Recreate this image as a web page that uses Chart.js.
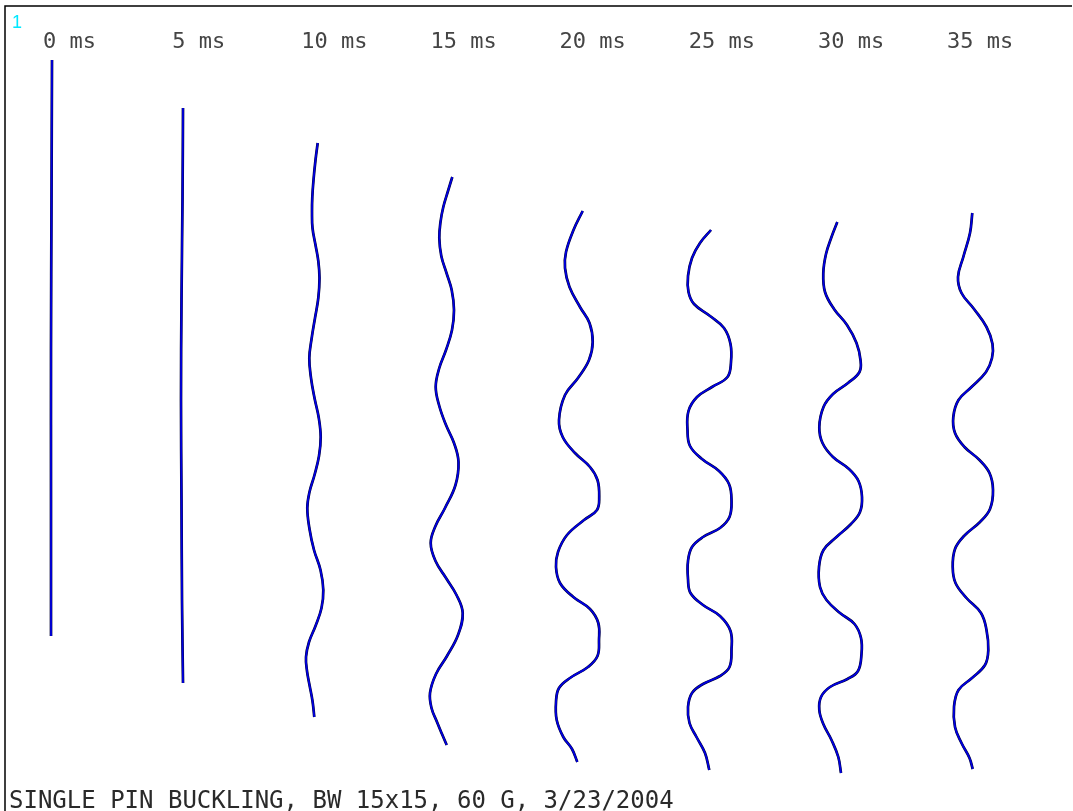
<!DOCTYPE html>
<html>
<head>
<meta charset="utf-8">
<title>Single pin buckling</title>
<script src="https://cdn.jsdelivr.net/npm/chart.js@4/dist/chart.umd.min.js"></script>
<style>
  html, body { margin: 0; padding: 0; background: #ffffff; }
  #wrap { position: relative; width: 1073px; height: 811px; }
</style>
</head>
<body>
<div id="wrap"><canvas id="c"></canvas></div>
<script>
// Frame times (ms) and the labels printed above each pin shape
const times = [0, 5, 10, 15, 20, 25, 30, 35];
const timeLabels = ['0 ms', '5 ms', '10 ms', '15 ms', '20 ms', '25 ms', '30 ms', '35 ms'];
const chartTitle = 'SINGLE PIN BUCKLING, BW 15x15, 60 G, 3/23/2004';
const frameNumber = '1';

// Deformed pin centre line at each time: [lateral position, vertical position]
const pin0 = [[52, 60], [51.5, 200], [51, 350], [51, 500], [51, 636]];
const pin5 = [[183, 108], [182.5, 200], [181.5, 300], [181, 400], [181.5, 500], [182, 600], [183, 683]];
const pin10 = [
  [317.7, 143], [315.5, 160], [313.5, 180], [312.3, 197], [312, 212], [312.5, 228],
  [315.5, 245], [318.3, 261], [319.5, 278], [318.3, 298], [315, 318], [311.7, 338],
  [309.3, 358], [311, 378], [314.5, 398], [318.8, 418], [320.7, 437], [319, 456],
  [314.5, 475], [309.5, 492], [307.3, 508], [309.5, 529], [314, 550], [320.5, 570],
  [323.3, 590], [321.5, 608], [315.5, 626], [309, 642], [306, 657], [307, 671],
  [309.5, 685], [312.5, 701], [314.3, 717]
];
const pin15 = [
  [452.3, 177], [448, 191], [443.3, 207], [440.5, 222], [439.3, 238], [441.3, 256],
  [446.5, 273], [451.7, 290], [454, 310], [452, 330], [446, 350], [439.3, 368],
  [435.7, 387], [439.3, 406], [446, 425], [454, 443], [458.5, 462], [455.5, 485],
  [445, 508], [435.5, 526], [430.7, 543], [435.5, 561], [446, 578], [456.5, 595],
  [462.7, 613], [458, 635], [447, 656], [436, 674], [430, 693], [431.5, 708],
  [437, 722], [442, 734], [446.7, 745]
];
const pin20 = [
  [582.7, 211], [573.5, 230], [566, 252], [565, 268], [569.5, 287], [580, 307],
  [589.5, 323], [592.7, 342], [589, 360], [578, 378], [565, 395], [559, 420],
  [562.7, 437], [575, 453], [590, 467], [597.5, 480], [599.2, 497], [597, 510],
  [584, 520], [567, 535], [558, 552], [556, 567], [560, 583], [573.3, 597],
  [590, 609], [598.3, 623], [599, 640], [597.5, 656], [588, 667], [570, 678],
  [559, 688], [556, 702], [556.7, 720], [563.3, 737], [572, 749], [577.3, 762]
];
const pin25 = [
  [711, 230], [700, 243], [692, 258], [688, 276], [688.5, 292], [694, 304],
  [710, 316], [724, 328], [730.5, 344], [731, 362], [727.5, 377], [712, 387],
  [697, 397], [688.5, 411], [687.5, 430], [690, 446], [702, 459], [719, 471],
  [729, 484], [731.5, 500], [729.5, 517], [720, 528], [703, 537], [692, 547],
  [688, 561], [688, 579], [690.5, 593], [703, 605], [720, 616], [730.5, 631],
  [731.5, 650], [729.5, 667], [720, 676], [703, 684], [692, 693], [688, 707],
  [689.5, 723], [696.5, 737], [705, 753], [709.3, 770]
];
const pin30 = [
  [837.3, 222], [831.5, 237], [826, 254], [823.3, 273], [825, 292], [834, 309],
  [847, 325], [856.5, 343], [860.5, 360], [859.5, 372], [848, 383], [833, 394],
  [823.5, 407], [819.3, 427], [822.5, 443], [833, 457], [849, 469], [858.5, 481],
  [862, 497], [860, 512], [851, 524], [836.5, 537], [823.5, 550], [819, 567],
  [820, 587], [826.5, 600], [840, 613], [854.5, 624], [861, 638], [861.5, 654],
  [858, 671], [847.5, 679], [830, 687], [821, 697], [819.3, 710], [823.3, 724],
  [831.5, 740], [838.3, 757], [841, 773]
];
const pin35 = [
  [972.3, 213], [970, 233], [963.3, 257], [958, 277], [961.5, 293], [974, 309],
  [986.5, 327], [992.5, 344], [992, 358], [986, 372], [971.5, 387], [958.5, 400],
  [953.3, 417], [955, 433], [964.5, 447], [979.5, 460], [989.5, 473], [993, 490],
  [990, 509], [980, 522], [964, 536], [955, 549], [952.7, 567], [955.5, 583],
  [966.5, 598], [981, 613], [986.5, 630], [988.3, 650], [985, 665], [972, 678],
  [958.5, 690], [954, 707], [955, 727], [961.5, 743], [969.5, 758], [972.7, 769]
];
const pins = [pin0, pin5, pin10, pin15, pin20, pin25, pin30, pin35];

// Each pin is stroked twice: a dark edge underneath and a blue core on top
const toPoints = arr => arr.map(([x, y]) => ({ x, y }));
const datasets = [];
pins.forEach((pin, i) => {
  datasets.push({
    label: timeLabels[i] + ' edge', data: toPoints(pin), showLine: true,
    borderColor: '#00002e', borderWidth: 2.7, pointRadius: 0,
    tension: 0.4, order: 2
  });
  datasets.push({
    label: timeLabels[i], data: toPoints(pin), showLine: true,
    borderColor: '#0000e0', borderWidth: 1.8, pointRadius: 0,
    tension: 0.4, order: 1
  });
});

// Frame, time labels, frame number and caption
const annotate = {
  id: 'annotate',
  beforeDatasetsDraw(chart) {
    const ctx = chart.ctx;
    ctx.save();
    ctx.strokeStyle = '#000';
    ctx.lineWidth = 1.5;
    ctx.beginPath();
    ctx.moveTo(5, 811);
    ctx.lineTo(5, 6);
    ctx.lineTo(1072, 6);
    ctx.stroke();
    ctx.restore();
  },
  afterDatasetsDraw(chart) {
    const ctx = chart.ctx;
    const xt = chart.scales.xt;
    ctx.save();
    ctx.textBaseline = 'alphabetic';
    ctx.textAlign = 'left';
    ctx.fillStyle = '#444';
    ctx.font = '22px "DejaVu Sans Mono", monospace';
    times.forEach((t, i) => {
      ctx.fillText(timeLabels[i], xt.getPixelForValue(t), 48);
    });
    ctx.fillStyle = '#2a2a2a';
    ctx.font = '24px "DejaVu Sans Mono", monospace';
    ctx.fillText(chartTitle, 9, 808);
    ctx.fillStyle = '#00e8ff';
    ctx.font = '18px "Liberation Sans", sans-serif';
    ctx.fillText(frameNumber, 12, 28);
    ctx.restore();
  }
};

new Chart(document.getElementById('c'), {
  type: 'scatter',
  data: { datasets },
  options: {
    responsive: true,
    maintainAspectRatio: false,
    animation: false,
    devicePixelRatio: 1,
    layout: { padding: 0 },
    plugins: { legend: { display: false }, tooltip: { enabled: false }, title: { display: false } },
    scales: {
      x: { type: 'linear', min: 0, max: 1073, display: false },
      xt: { type: 'linear', axis: 'x', min: -43 / 25.83, max: (1073 - 43) / 25.83, display: false },
      y: { type: 'linear', min: 0, max: 811, reverse: true, display: false }
    }
  },
  plugins: [annotate]
});
</script>
</body>
</html>
